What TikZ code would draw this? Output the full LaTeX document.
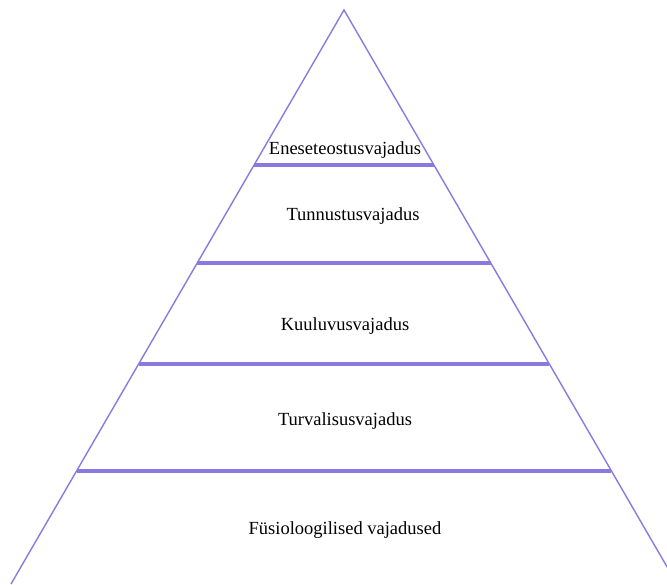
\documentclass[tikz,border=0pt]{standalone}
\usepackage{fontspec}
\setmainfont{Liberation Serif}
\usepackage{tikz}
\usetikzlibrary{calc}

\definecolor{tierline}{RGB}{138,122,224}

\begin{document}
\begin{tikzpicture}[
    x=1pt, y=-1pt,
    edge/.style={draw=tierline, line width=1.4pt},
    tier/.style={draw=tierline, line width=3.3pt},
    label/.style={text=black, font=\fontsize{18.5}{21}\selectfont, inner sep=0pt}
]
    \clip (0,0) rectangle (667,584);

    % pyramid outline
    \coordinate (apex) at (344,10);
    \coordinate (bl) at (11,584);
    \coordinate (br) at (677,584);
    \draw[edge] (bl) -- (apex) -- (br);

    % tier separators
    \coordinate (l1) at ($(apex)!{155/574}!(bl)$);
    \coordinate (r1) at ($(apex)!{155/574}!(br)$);
    \coordinate (l2) at ($(apex)!{253/574}!(bl)$);
    \coordinate (r2) at ($(apex)!{253/574}!(br)$);
    \coordinate (l3) at ($(apex)!{354/574}!(bl)$);
    \coordinate (r3) at ($(apex)!{354/574}!(br)$);
    \coordinate (l4) at ($(apex)!{461/574}!(bl)$);
    \coordinate (r4) at ($(apex)!{461/574}!(br)$);
    \draw[tier] (l1) -- (r1);
    \draw[tier] (l2) -- (r2);
    \draw[tier] (l3) -- (r3);
    \draw[tier] (l4) -- (r4);

    \node[label] (self) at (345,150) {Eneseteostusvajadus};
    \node[label] (esteem) at (353,216) {Tunnustusvajadus};
    \node[label] (belong) at (345,326) {Kuuluvusvajadus};
    \node[label] (safety) at (345,421) {Turvalisusvajadus};
    \node[label] (body) at (345,530) {Füsioloogilised vajadused};
\end{tikzpicture}
\end{document}
